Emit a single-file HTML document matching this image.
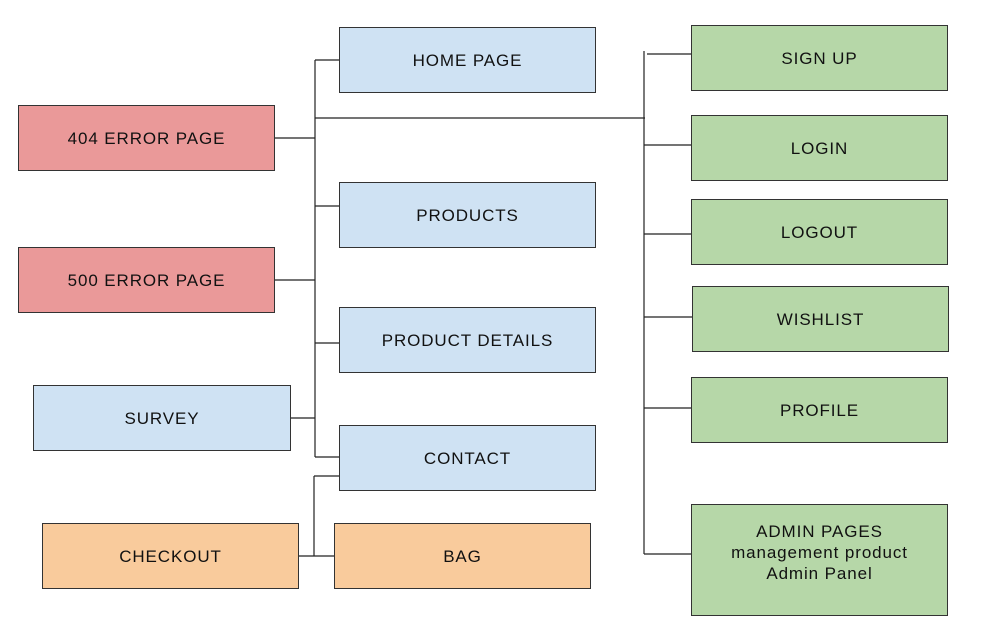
<!DOCTYPE html>
<html><head><meta charset="utf-8"><style>
body{margin:0;width:982px;height:636px;background:#fff;position:relative;overflow:hidden;font-family:"Liberation Sans",sans-serif;}
.b{position:absolute;box-sizing:border-box;border:1px solid #333;display:flex;align-items:center;justify-content:center;text-align:center;font-size:17px;letter-spacing:0.9px;color:#111;line-height:21px;}
.r{background:#ea9999}.u{background:#cfe2f3}.o{background:#f9cb9c}.g{background:#b6d7a8}
svg{position:absolute;left:0;top:0}
</style></head><body>
<svg width="982" height="636"><g stroke="#222" stroke-width="1.2" fill="none">
<path d="M315 60V457M315 60H339M274 138H315M315 118H645M315 206H339M274 280H315M315 343H339M291 418H315M315 457H339"/>
<path d="M314 476V556H334M314 476H339M297 556H314"/>
<path d="M644 51V554M647 54H694M644 145H691M644 234H691M644 317H692M644 408H691M644 554H691"/>
</g></svg>
<div class="b r" style="left:18px;top:105px;width:257px;height:66px">404 ERROR PAGE</div>
<div class="b r" style="left:18px;top:247px;width:257px;height:66px">500 ERROR PAGE</div>
<div class="b u" style="left:33px;top:385px;width:258px;height:66px">SURVEY</div>
<div class="b u" style="left:339px;top:27px;width:257px;height:66px">HOME PAGE</div>
<div class="b u" style="left:339px;top:182px;width:257px;height:66px">PRODUCTS</div>
<div class="b u" style="left:339px;top:307px;width:257px;height:66px">PRODUCT DETAILS</div>
<div class="b u" style="left:339px;top:425px;width:257px;height:66px">CONTACT</div>
<div class="b o" style="left:42px;top:523px;width:257px;height:66px">CHECKOUT</div>
<div class="b o" style="left:334px;top:523px;width:257px;height:66px">BAG</div>
<div class="b g" style="left:691px;top:25px;width:257px;height:66px">SIGN UP</div>
<div class="b g" style="left:691px;top:115px;width:257px;height:66px">LOGIN</div>
<div class="b g" style="left:691px;top:199px;width:257px;height:66px">LOGOUT</div>
<div class="b g" style="left:692px;top:286px;width:257px;height:66px">WISHLIST</div>
<div class="b g" style="left:691px;top:377px;width:257px;height:66px">PROFILE</div>
<div class="b g" style="left:691px;top:504px;width:257px;height:112px;padding-bottom:16px">ADMIN PAGES<br>management product<br>Admin Panel</div>
</body></html>
